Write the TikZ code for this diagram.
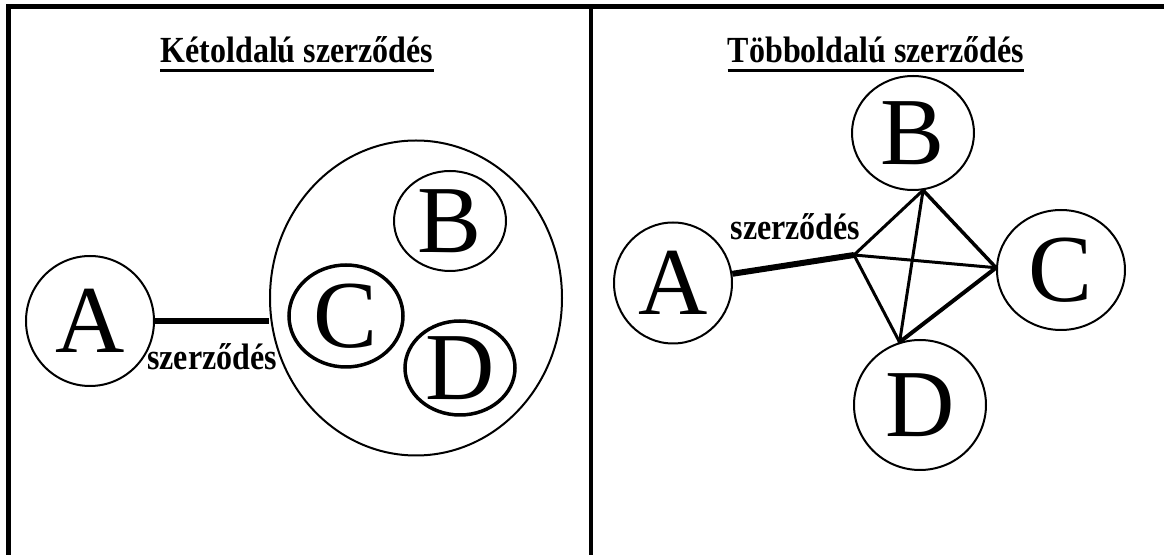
\documentclass[tikz,border=0pt]{standalone}
\usepackage{fontspec}
\setmainfont{Liberation Serif}
\usetikzlibrary{shapes.geometric}
\newcommand{\tallbf}[1]{\scalebox{1}[1.15]{#1}}
\tikzset{
  circ/.style={ellipse, draw, line width=1pt, inner sep=0pt, font=\fontsize{48}{48}\selectfont},
  thickcirc/.style={circ, line width=1.75pt},
  ttl/.style={anchor=base, inner sep=0pt, font=\bfseries\fontsize{16}{16}\selectfont},
  lbl/.style={anchor=base, inner sep=0pt, font=\bfseries\fontsize{16}{16}\selectfont},
  frame/.style={line width=2.5pt, line join=miter},
  link/.style={line width=1.5pt, line cap=round, line join=round},
  heavylink/.style={line width=3pt}
}
\begin{document}
\begin{tikzpicture}[x=0.5pt,y=-0.5pt]
\useasboundingbox (0,0) rectangle (1164,555);
\fill[white] (0,0) rectangle (1164,555);
% frame
\draw[frame] (8.5,555) -- (8.5,6.5) -- (1164,6.5);
\draw[line width=2pt] (591,6.5) -- (591,555);
% titles
\node[ttl] (t1) at (297,63) {\tallbf{Kétoldalú szerződés}};
\draw[line width=1.5pt] ([yshift=-4pt]t1.base west) -- ([yshift=-4pt]t1.base east);
\node[ttl] (t2) at (876,63) {\tallbf{Többoldalú szerződés}};
\draw[line width=1.5pt] ([yshift=-4pt]t2.base west) -- ([yshift=-4pt]t2.base east);
% left panel
\node[circ, minimum width=64pt, minimum height=65pt] (lA) at (90,321) {A};
\node[circ, minimum width=146pt, minimum height=157.5pt] (big) at (416,298) {};
\node[circ, minimum width=56pt, minimum height=50pt] (lB) at (450,221) {B};
\node[thickcirc, minimum width=57pt, minimum height=51pt] (lC) at (346,316) {C};
\node[thickcirc, minimum width=55pt, minimum height=47pt] (lD) at (460,368) {D};
\draw[heavylink] (lA.east) -- (lA.east -| big.west);
\node[lbl] (lL) at (212,370) {\tallbf{szerződés}};
% right panel
\node[circ, minimum width=59pt, minimum height=60.5pt] (rA) at (673,283) {A};
\node[circ, minimum width=61pt, minimum height=57pt] (rB) at (913,133) {B};
\node[circ, minimum width=64pt, minimum height=60pt] (rC) at (1061,270) {C};
\node[circ, minimum width=66pt, minimum height=65pt] (rD) at (920,405) {D};
\coordinate (J) at (854,255);
\node[lbl] (rL) at (795.5,240) {\tallbf{szerződés}};
\draw[heavylink] (rA) -- (J);
\draw[link] (J) -- (rB.-80);
\draw[link] (J) -- (rC.178);
\draw[link] (J) -- (rD.108);
\draw[link] (rB.-80) -- (rD.108);
\draw[link, line width=1.75pt] (rB.-80) -- (rC.178);
\draw[link, line width=2pt] (rC.178) -- (rD.108);
\end{tikzpicture}
\end{document}
